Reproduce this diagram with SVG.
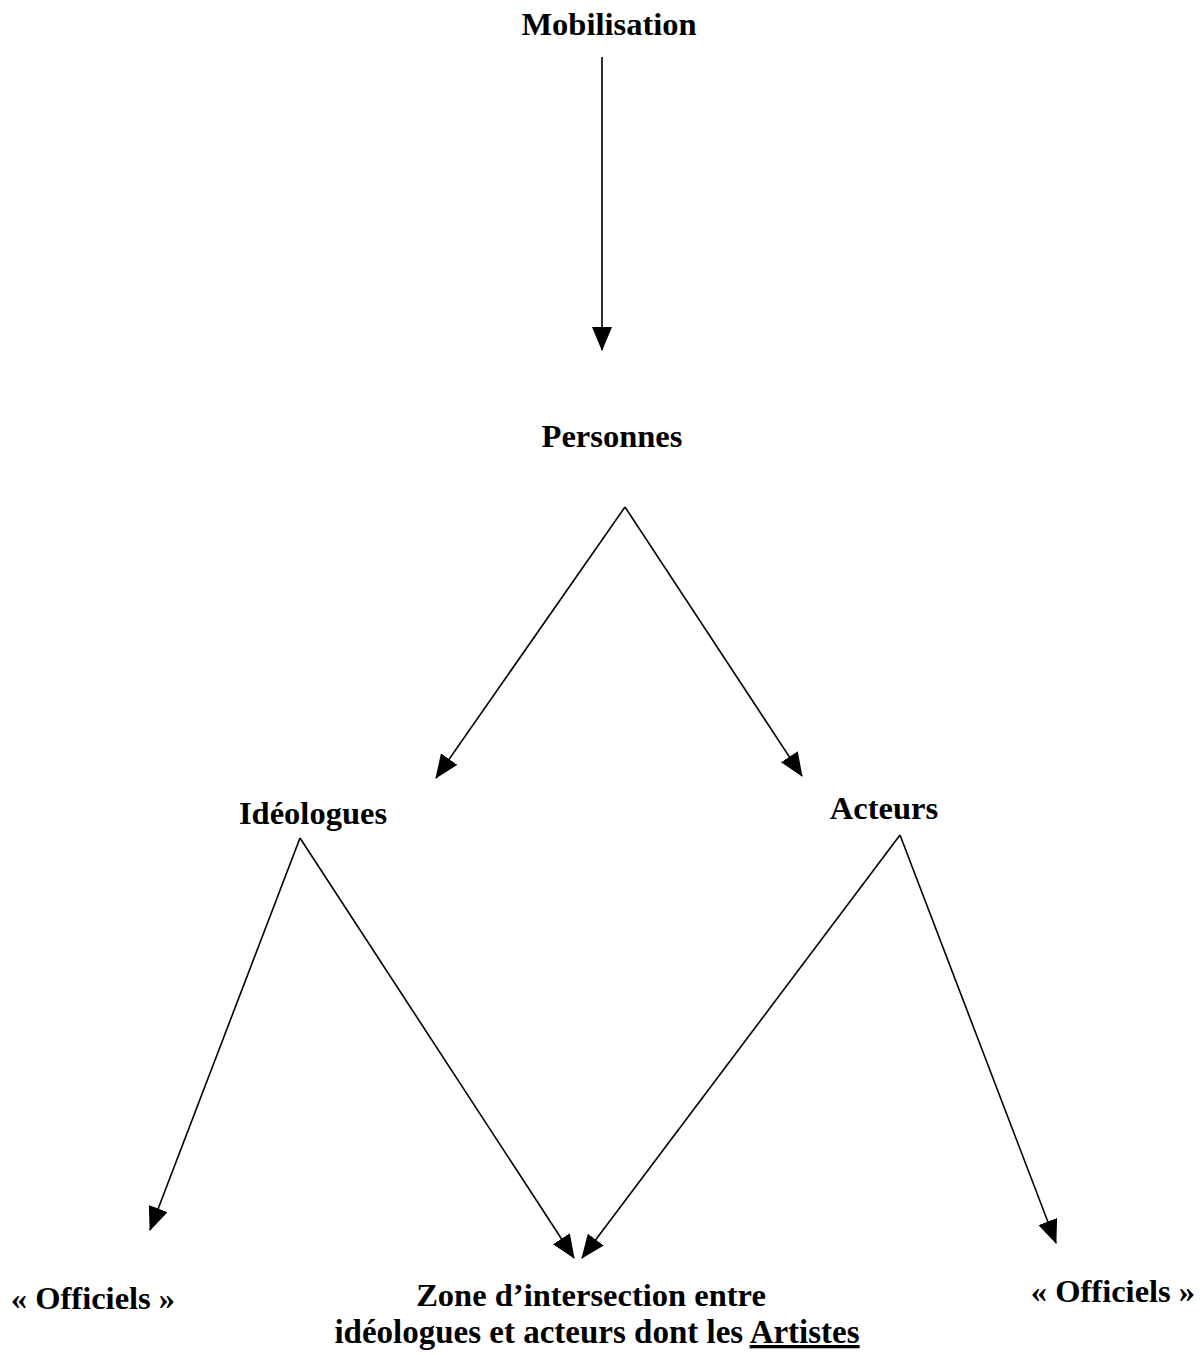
<svg xmlns="http://www.w3.org/2000/svg" width="1204" height="1355" viewBox="0 0 1204 1355">
<style>
text{font-family:"Liberation Serif","Times New Roman",serif;font-weight:bold;font-size:32.5px;fill:#000;text-anchor:middle}
.c{stroke:#000;stroke-width:1.6;fill:none;marker-end:url(#ah)}
</style>
<defs>
<marker id="ah" markerUnits="userSpaceOnUse" markerWidth="24" markerHeight="20" viewBox="0 0 24 20" refX="23" refY="10" orient="auto">
<path d="M0,0 L24,10 L0,20 Z" fill="#000"/>
</marker>
</defs>
<rect width="1204" height="1355" fill="#fff"/>
<g id="n-mobilisation"><text x="609" y="35">Mobilisation</text></g>
<g id="n-personnes"><text x="612" y="447">Personnes</text></g>
<g id="n-ideologues"><text x="313" y="824">Idéologues</text></g>
<g id="n-acteurs"><text x="884" y="819">Acteurs</text></g>
<g id="n-officiels-l"><text x="93" y="1309">« Officiels »</text></g>
<g id="n-officiels-r"><text x="1113" y="1302">« Officiels »</text></g>
<g id="n-zone"><text x="591" y="1306">Zone d’intersection entre</text><text x="597" y="1343" style="font-size:33px">idéologues et acteurs dont les <tspan text-decoration="underline">Artistes</tspan></text></g>
<g id="connectors">
<line class="c" x1="602" y1="57" x2="602" y2="350"/>
<line class="c" x1="625" y1="507" x2="436" y2="778"/>
<line class="c" x1="625" y1="507" x2="802" y2="776"/>
<line class="c" x1="300" y1="838" x2="150" y2="1230"/>
<line class="c" x1="300" y1="838" x2="574" y2="1258"/>
<line class="c" x1="900" y1="835" x2="582" y2="1258"/>
<line class="c" x1="900" y1="835" x2="1056" y2="1243"/>
</g>
</svg>
